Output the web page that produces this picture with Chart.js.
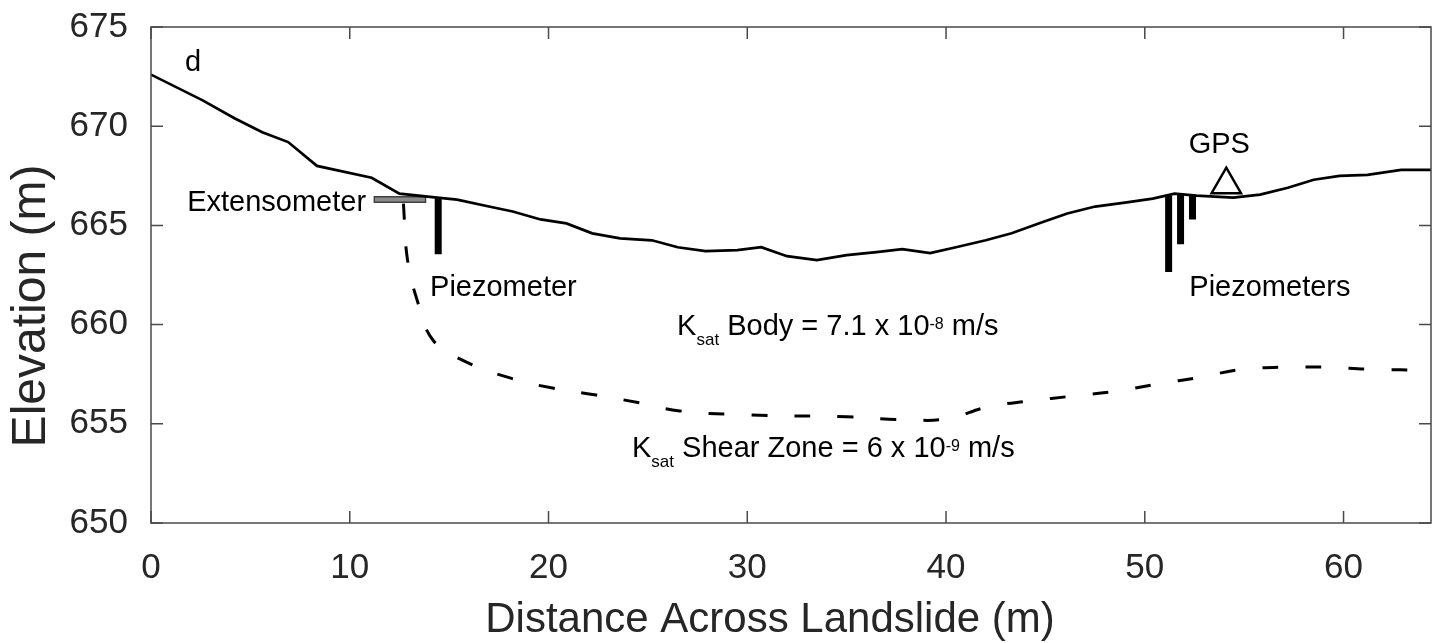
<!DOCTYPE html>
<html>
<head>
<meta charset="utf-8">
<script src="https://cdn.jsdelivr.net/npm/chart.js@4.4.1/dist/chart.umd.min.js"></script>
<style>
    html, body { margin: 0; padding: 0; background: #fff; }
    #wrap { width: 1442px; height: 643px; }
</style>
</head>
<body>
<div id="wrap"><canvas id="profileChart" width="1442" height="643"></canvas></div>
<script>
// Ground surface profile (distance m, elevation m)
const surfaceX = [0, 2.6, 4.2, 5.6, 6.9, 8.35, 11.1, 12.5, 14.4, 15.4, 17.0, 18.2, 19.6, 20.9, 22.2, 23.6, 25.2, 26.5, 27.9, 29.5, 30.7, 32.0, 33.5, 35.0, 36.5, 37.8, 39.2, 40.5, 42.0, 43.3, 44.8, 46.1, 47.5, 49.0, 50.4, 51.5, 52.6, 54.45, 55.8, 57.2, 58.5, 59.8, 61.2, 62.9, 64.4];
const surfaceElev = [672.6, 671.3, 670.4, 669.7, 669.2, 668.0, 667.4, 666.6, 666.4, 666.3, 665.95, 665.7, 665.3, 665.1, 664.6, 664.35, 664.25, 663.9, 663.7, 663.75, 663.9, 663.45, 663.25, 663.5, 663.65, 663.8, 663.6, 663.9, 664.25, 664.6, 665.15, 665.6, 665.95, 666.15, 666.35, 666.6, 666.5, 666.4, 666.55, 666.9, 667.3, 667.5, 667.55, 667.8, 667.8];

// Basal shear zone (dashed)
const shearX = [12.7, 12.9, 13.4, 14.2, 15.9, 18.1, 20.2, 22.4, 24.6, 26.6, 30.0, 35.0, 38.0, 40.05, 42.1, 44.2, 46.4, 48.6, 50.6, 52.8, 54.9, 57.0, 59.2, 61.3, 64.4];
const shearElev = [666.1, 663.3, 661.2, 659.2, 658.1, 657.3, 656.8, 656.45, 656.05, 655.65, 655.45, 655.35, 655.2, 655.25, 655.85, 656.15, 656.4, 656.65, 657.0, 657.35, 657.75, 657.85, 657.85, 657.75, 657.7];

// Instruments
const piezoX = [14.45, 51.2, 51.8, 52.4];
const piezoTop = [666.4, 666.5, 666.6, 666.5];
const piezoBottom = [663.55, 662.65, 664.05, 665.3];
const extensometerX = [11.2, 13.85];
const extensometerElev = [666.3, 666.3];
const gpsX = [54.1];
const gpsElev = [667.05];

// Axis ticks
const xTicks = [0, 10, 20, 30, 40, 50, 60];
const yTicks = [650, 655, 660, 665, 670, 675];

const xTitle = 'Distance Across Landslide (m)';
const yTitle = 'Elevation (m)';

const FONT = '"Liberation Sans", Arial, Helvetica, sans-serif';
const AXIS_COLOR = '#262626';

function toPoints(xs, ys) {
    return xs.map((v, i) => ({ x: v, y: ys[i] }));
}

// Chart.js paints lower "order" on top, so order is set explicitly
const datasets = [];

datasets.push({
    data: toPoints(gpsX, gpsElev),
    showLine: false,
    pointStyle: 'triangle',
    pointRadius: 17,
    pointBackgroundColor: '#fff',
    pointBorderColor: '#000',
    pointBorderWidth: 2.5,
    order: 0
});

datasets.push({
    data: toPoints(surfaceX, surfaceElev),
    borderColor: '#000',
    borderWidth: 2.7,
    tension: 0,
    pointRadius: 0,
    order: 1
});

datasets.push({
    data: toPoints(shearX, shearElev),
    borderColor: '#000',
    borderWidth: 3,
    borderDash: [16, 27],
    tension: 0.4,
    pointRadius: 0,
    order: 2
});

// piezometer bars
piezoX.forEach((px, i) => {
    datasets.push({
        data: [{ x: px, y: piezoTop[i] }, { x: px, y: piezoBottom[i] }],
        borderColor: '#000',
        borderWidth: 7,
        borderCapStyle: 'butt',
        pointRadius: 0,
        order: 3
    });
});

// extensometer: grey bar over a dark outline
datasets.push({
    data: toPoints([extensometerX[0] + 0.07, extensometerX[1] - 0.07], extensometerElev),
    borderColor: '#8a8a8a',
    borderWidth: 4,
    borderCapStyle: 'butt',
    pointRadius: 0,
    order: 4
});
datasets.push({
    data: toPoints(extensometerX, extensometerElev),
    borderColor: '#404040',
    borderWidth: 7,
    borderCapStyle: 'butt',
    pointRadius: 0,
    order: 5
});

// MATLAB style box with inward ticks, plus axis titles
const framePlugin = {
    id: 'frame',
    afterDraw(chart) {
        const { ctx, chartArea: a, scales: { x, y } } = chart;
        const len = 12;
        ctx.save();
        ctx.strokeStyle = '#4a4a4a';
        ctx.lineWidth = 1.5;
        ctx.strokeRect(a.left, a.top, a.right - a.left, a.bottom - a.top);
        ctx.beginPath();
        xTicks.forEach(v => {
            const px = x.getPixelForValue(v);
            ctx.moveTo(px, a.bottom); ctx.lineTo(px, a.bottom - len);
            ctx.moveTo(px, a.top); ctx.lineTo(px, a.top + len);
        });
        yTicks.forEach(v => {
            const py = y.getPixelForValue(v);
            ctx.moveTo(a.left, py); ctx.lineTo(a.left + len, py);
            ctx.moveTo(a.right, py); ctx.lineTo(a.right - len, py);
        });
        ctx.stroke();

        // axis titles
        ctx.fillStyle = AXIS_COLOR;
        ctx.textBaseline = 'alphabetic';
        ctx.textAlign = 'center';
        ctx.font = '42px ' + FONT;
        ctx.fillText(xTitle, 770, 632);

        ctx.translate(45, 306);
        ctx.rotate(-Math.PI / 2);
        ctx.font = '48px ' + FONT;
        ctx.fillText(yTitle, 0, 0);
        ctx.restore();
    }
};

// draw a run of text pieces with sub/superscripts
function drawRich(ctx, parts, startX, baseY) {
    let cx = startX;
    parts.forEach(p => {
        ctx.font = p.size + 'px ' + FONT;
        ctx.fillText(p.t, cx, baseY + (p.dy || 0));
        cx += ctx.measureText(p.t).width;
    });
}

const labelPlugin = {
    id: 'labels',
    afterDraw(chart) {
        const { ctx, scales: { x, y } } = chart;
        ctx.save();
        ctx.fillStyle = '#000';
        ctx.textBaseline = 'alphabetic';
        ctx.font = '29px ' + FONT;

        ctx.textAlign = 'left';
        ctx.fillText('d', x.getPixelForValue(1.71), y.getPixelForValue(672.78));
        ctx.fillText('Piezometer', x.getPixelForValue(14.04), y.getPixelForValue(661.44));
        ctx.fillText('Piezometers', x.getPixelForValue(52.24), y.getPixelForValue(661.44));

        ctx.textAlign = 'right';
        ctx.fillText('Extensometer', x.getPixelForValue(10.82), y.getPixelForValue(665.74));

        ctx.textAlign = 'center';
        ctx.fillText('GPS', x.getPixelForValue(53.75), y.getPixelForValue(668.65));

        ctx.textAlign = 'left';
        drawRich(ctx, [
            { t: 'K', size: 29 },
            { t: 'sat', size: 17, dy: 10 },
            { t: ' Body = 7.1 x 10', size: 29 },
            { t: '-8', size: 16, dy: -6 },
            { t: ' m/s', size: 29 }
        ], x.getPixelForValue(26.47), y.getPixelForValue(659.48));

        drawRich(ctx, [
            { t: 'K', size: 29 },
            { t: 'sat', size: 17, dy: 10 },
            { t: ' Shear Zone = 6 x 10', size: 29 },
            { t: '-9', size: 16, dy: -6 },
            { t: ' m/s', size: 29 }
        ], x.getPixelForValue(24.2), y.getPixelForValue(653.33));
        ctx.restore();
    }
};

function noScalePadding(scale) {
    scale.paddingTop = 0;
    scale.paddingBottom = 0;
    scale.paddingLeft = 0;
    scale.paddingRight = 0;
}

const ctx = document.getElementById('profileChart');

new Chart(ctx, {
    type: 'line',
    data: { datasets: datasets },
    options: {
        responsive: false,
        animation: false,
        layout: { autoPadding: false, padding: { top: 27, right: 11, left: 0, bottom: 0 } },
        plugins: {
            legend: { display: false },
            tooltip: { enabled: false }
        },
        scales: {
            x: {
                type: 'linear',
                min: 0,
                max: 64.4,
                afterFit(scale) { scale.height = 120; noScalePadding(scale); },
                afterBuildTicks(scale) { scale.ticks = xTicks.map(v => ({ value: v })); },
                ticks: {
                    padding: 24,
                    color: AXIS_COLOR,
                    maxRotation: 0,
                    font: { family: FONT, size: 35 }
                },
                grid: { display: false, drawTicks: false },
                border: { display: false }
            },
            y: {
                type: 'linear',
                min: 650,
                max: 675,
                afterFit(scale) { scale.width = 151; noScalePadding(scale); },
                afterBuildTicks(scale) { scale.ticks = yTicks.map(v => ({ value: v })); },
                ticks: {
                    padding: 23,
                    color: AXIS_COLOR,
                    font: { family: FONT, size: 35 }
                },
                grid: { display: false, drawTicks: false },
                border: { display: false }
            }
        }
    },
    plugins: [framePlugin, labelPlugin]
});
</script>
</body>
</html>
